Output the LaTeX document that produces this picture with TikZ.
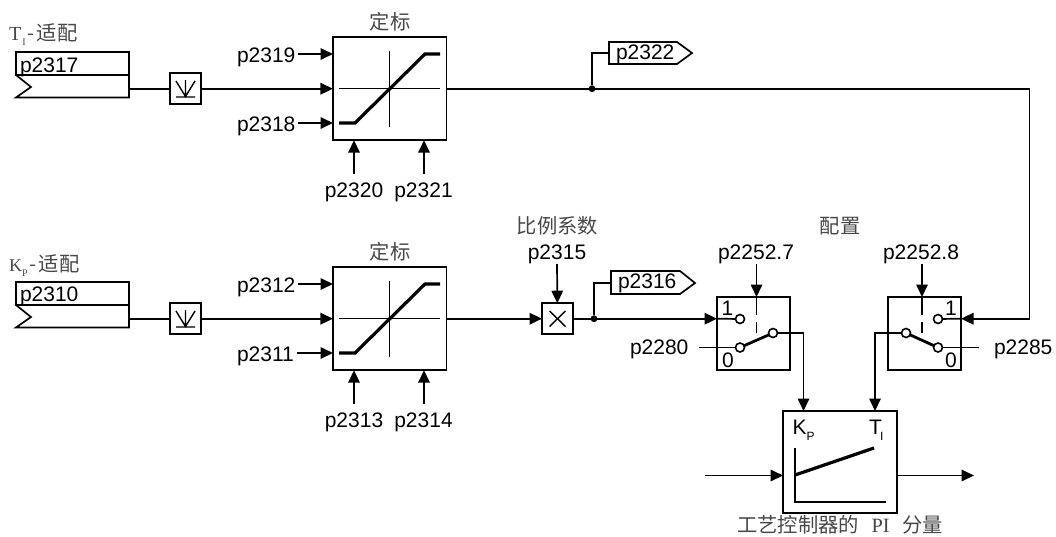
\documentclass[tikz,border=0pt]{standalone}
\usepackage{fontspec}
\setmainfont{Liberation Sans}
\newfontfamily\cjk{Noto Sans CJK SC}
\newfontfamily\serifT{Liberation Serif}
\usetikzlibrary{arrows.meta}
\tikzset{x=1pt,y=-1pt,
 wire/.style={line width=1.7pt,line join=miter},
 arr/.style={wire,-{Triangle[length=12.5pt,width=11.5pt]}},
 blockbox/.style={draw,line width=1.7pt,fill=white,inner sep=0pt,outer sep=0pt},
 scalebox/.style={blockbox,minimum width=113.5pt,minimum height=103pt},
 smallbox/.style={blockbox,minimum width=31pt,minimum height=31pt},
 switchbox/.style={blockbox,minimum width=73pt,minimum height=73pt},
 pibox/.style={blockbox,minimum width=114pt,minimum height=102pt},
 lbl/.style={inner sep=0pt,outer sep=0pt,anchor=base,font=\fontsize{21pt}{23pt}\selectfont},
 lblw/.style={lbl,anchor=base west},
 subl/.style={lblw,font=\fontsize{12pt}{14pt}\selectfont},
 cjkl/.style={inner sep=0pt,text=black!72,font=\cjk\fontsize{20.3pt}{22pt}\selectfont},
 curve/.style={line width=3.2pt},
 thinl/.style={line width=1.4pt},
 contact/.style={circle,draw,line width=1.6pt,fill=white,minimum size=9pt,inner sep=0pt,outer sep=0pt},
 dotn/.style={circle,fill=black,minimum size=6.5pt,inner sep=0pt,outer sep=0pt}}
\newcommand{\titlelabel}[4]{\node[inner sep=0pt,anchor=base west,text=black!72] (#1) at (#2,#3) {#4};}
\newcommand{\titletail}{\hspace{2pt}{\cjk\fontsize{20.3pt}{22pt}\selectfont -\hspace{2pt}适配}}
\begin{document}
\begin{tikzpicture}
\useasboundingbox (0,0) rectangle (1056,536);
% ---- top row source
\draw[wire] (16,52) rectangle (129,75);
\draw[wire] (16,75) -- (31,87) -- (16,97.5) -- (129,97.5) -- (129,75);
\node[lblw] (p2317) at (20,72) {p2317};
\coordinate (srcT) at (129,88.7);
\titlelabel{tiT}{9}{40}{{\serifT\fontsize{20pt}{20pt}\selectfont T}\hspace{1pt}\raisebox{-5pt}{\serifT\fontsize{10pt}{10pt}\selectfont I}\titletail}
\node[smallbox] (convT) at (185.5,88.7) {};
\draw[thinl] (176,81) -- (185.5,96.5) -- (195,81) (185.5,80) -- (185.5,96.5) (176,97) -- (195,97);
\node[scalebox] (scaleT) at (389.7,88.7) {};
\draw[thinl] (339,88.7) -- (440,88.7) (389.7,51) -- (389.7,127);
\draw[curve] (339,123) -- (355,123) -- (425,54) -- (440,54);
\node[cjkl] (tDingT) at (390,22) {定标};
\draw[wire] (srcT) -- (convT);
\draw[arr] (convT) -- (scaleT);
\node[lblw] (p2319) at (237,62) {p2319};
\node[lblw] (p2318) at (237,131) {p2318};
\coordinate (iT1) at (333,54); \coordinate (iT2) at (333,123);
\draw[arr] (p2319.east |- iT1) ++(3,0) -- (iT1);
\draw[arr] (p2318.east |- iT2) ++(3,0) -- (iT2);
\node[lbl] (p2320) at (354,197) {p2320};
\node[lbl] (p2321) at (423.5,197) {p2321};
\coordinate (iT3) at (354,140.2); \coordinate (iT4) at (424,140.2);
\coordinate (sT3) at (354,174); \coordinate (sT4) at (424,174);
\draw[arr] (sT3) -- (iT3);
\draw[arr] (sT4) -- (iT4);
% ---- bottom row source
\draw[wire] (16,282) rectangle (129,305);
\draw[wire] (16,305) -- (31,317) -- (16,327.5) -- (129,327.5) -- (129,305);
\node[lblw] (p2310) at (20,301) {p2310};
\coordinate (srcK) at (129,318.7);
\titlelabel{tiK}{9}{271}{{\serifT\fontsize{18pt}{20pt}\selectfont K}\raisebox{-5pt}{\serifT\fontsize{10pt}{10pt}\selectfont P}\titletail}
\node[smallbox] (convK) at (185.5,318.7) {};
\draw[thinl] (176,311) -- (185.5,326.5) -- (195,311) (185.5,310) -- (185.5,326.5) (176,327) -- (195,327);
\node[scalebox] (scaleK) at (389.7,318.7) {};
\draw[thinl] (339,318.7) -- (440,318.7) (389.7,281) -- (389.7,357);
\draw[curve] (339,353) -- (355,353) -- (425,284) -- (440,284);
\node[cjkl] (tDingK) at (390,252) {定标};
\draw[wire] (srcK) -- (convK);
\draw[arr] (convK) -- (scaleK);
\node[lblw] (p2312) at (237,292) {p2312};
\node[lblw] (p2311) at (237,361) {p2311};
\coordinate (iK1) at (333,284); \coordinate (iK2) at (333,353);
\draw[arr] (p2312.east |- iK1) ++(3,0) -- (iK1);
\draw[arr] (p2311.east |- iK2) ++(3,0) -- (iK2);
\node[lbl] (p2313) at (354,427) {p2313};
\node[lbl] (p2314) at (423.5,427) {p2314};
\coordinate (iK3) at (354,370.2); \coordinate (iK4) at (424,370.2);
\coordinate (sK3) at (354,404); \coordinate (sK4) at (424,404);
\draw[arr] (sK3) -- (iK3);
\draw[arr] (sK4) -- (iK4);
% ---- multiplier
\node[smallbox] (mult) at (557.5,318.7) {};
\draw[thinl] (549.5,311) -- (565.5,326.5) (565.5,311) -- (549.5,326.5);
\draw[arr] (scaleK) -- (mult);
\node[cjkl] (tRatio) at (557.5,226) {比例系数};
\node[lbl] (p2315) at (557,259) {p2315};
\coordinate (sMul) at (557,264);
\draw[arr] (sMul) -- (mult);
% ---- top output + tag
\node[dotn] (dotT) at (592,88.7) {};
\draw[wire,fill=white] (609,42) -- (677,42) -- (692,53) -- (677,64) -- (609,64) -- cycle;
\node[lblw] (p2322) at (616,59) {p2322};
\coordinate (tagT) at (609,53);
\draw[wire] (dotT) |- (tagT);
% ---- bottom output + tag
\node[dotn] (dotK) at (594,318.7) {};
\draw[wire,fill=white] (611,271) -- (680,271) -- (695,283) -- (680,294) -- (611,294) -- cycle;
\node[lblw] (p2316) at (618,288) {p2316};
\coordinate (tagK) at (611,283);
\draw[wire] (dotK) |- (tagK);
\draw[wire] (mult) -- (dotK);
% ---- switch 1
\node[switchbox] (sw1) at (753.5,333.5) {};
\node[lbl] (s1one) at (727.5,315) {1};
\node[lbl] (s1zero) at (728,367) {0};
\node[lblw] (p2280) at (630,354) {p2280};
\node[lbl] (p2252a) at (756,259) {p2252.7};
\coordinate (s1src) at (756.5,264); \coordinate (s1top) at (756.5,297);
\draw[arr] (s1src) -- (s1top);
\draw[wire] (756.5,297) -- (756.5,315) (756.5,322) -- (756.5,333);
\coordinate (s1in) at (717,318.7);
\draw[arr] (dotK) -- (s1in);
\node[contact] (c1a) at (740,319) {};
\draw[wire] (s1in) -- (c1a);
\coordinate (s1free) at (699,347.5);
\node[contact] (c1b) at (740,347.5) {};
\node[contact] (c1c) at (773,333) {};
\draw[wire] (s1free) -- (c1b);
\draw[line width=2.8pt] (c1b) -- (c1c);
% ---- switch 2
\node[switchbox] (sw2) at (924.5,333.5) {};
\node[lbl] (s2one) at (951,315) {1};
\node[lbl] (s2zero) at (951,367) {0};
\node[lblw] (p2285) at (994,354) {p2285};
\node[lbl] (p2252b) at (921,259) {p2252.8};
\coordinate (s2src) at (922,264); \coordinate (s2top) at (922,297);
\draw[arr] (s2src) -- (s2top);
\draw[wire] (922,297) -- (922,315) (922,322) -- (922,333);
\node[cjkl] (tCfg) at (840,226) {配置};
\coordinate (s2in) at (961,318.7);
\coordinate (corner) at (1029.5,88.7);
\draw[arr] (scaleT) -- (corner) -- (corner |- s2in) -- (s2in);
\node[contact] (c2a) at (938,319) {};
\draw[wire] (s2in) -- (c2a);
\coordinate (s2free) at (979,347.5);
\node[contact] (c2b) at (938,347.5) {};
\node[contact] (c2c) at (906,333) {};
\draw[wire] (s2free) -- (c2b);
\draw[line width=2.8pt] (c2b) -- (c2c);
\node[dotn] at (dotT) {};
\node[dotn] at (dotK) {};
% ---- PI block
\node[pibox] (pi) at (840,462) {};
\node[lblw] (kp) at (792.5,434) {K};
\node[subl] (kps) at (806.5,440) {P};
\node[lblw] (ti) at (869,434) {T};
\node[subl] (tis) at (880,440) {I};
\draw[line width=1.7pt] (795,448) -- (795,502) -- (886,502);
\draw[curve] (795,475) -- (874,448);
\coordinate (piK) at (803.5,411); \coordinate (piT) at (875,411);
\draw[arr] (c1c) -| (piK);
\draw[arr] (c2c) -| (piT);
\coordinate (piinS) at (705,475.5); \coordinate (piinE) at (783,475.5);
\coordinate (pioutS) at (897,475.5); \coordinate (pioutE) at (974,475.5);
\draw[arr] (piinS) -- (piinE);
\draw[arr] (pioutS) -- (pioutE);
\node[cjkl] (cap) at (840,524.5) {工艺控制器的 \hspace{8pt}{\serifT PI}\hspace{8pt} 分量};
\end{tikzpicture}
\end{document}
